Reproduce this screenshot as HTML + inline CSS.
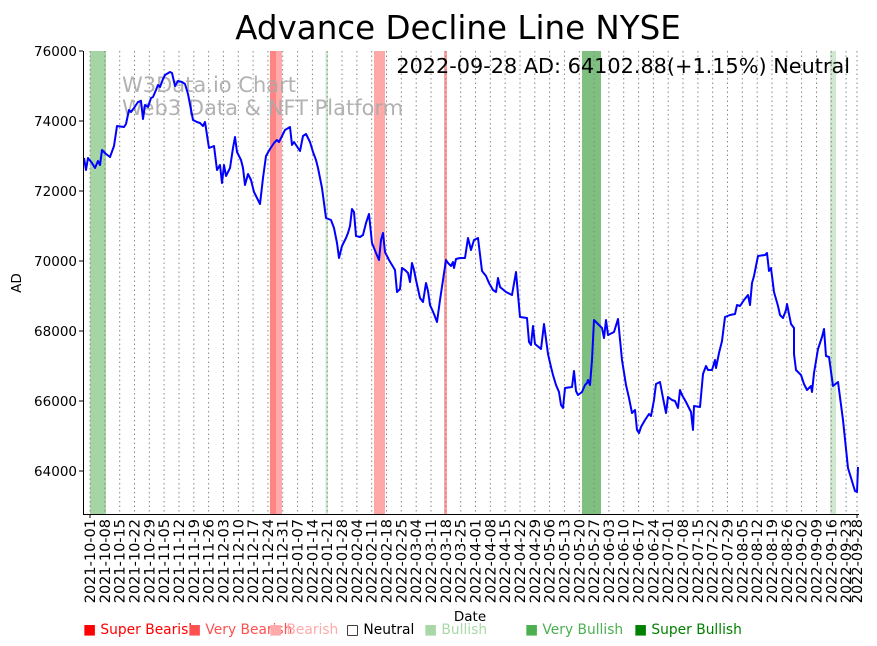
<!DOCTYPE html>
<html><head><meta charset="utf-8"><style>
body{margin:0;background:#fff;}
svg{display:block;font-family:"DejaVu Sans","Liberation Sans",sans-serif;}
</style></head><body>
<svg width="877" height="646" viewBox="0 0 877 646" xmlns="http://www.w3.org/2000/svg">
<rect width="877" height="646" fill="#fff"/>
<rect x="90" y="51" width="16" height="463" fill="#8fcb8f" opacity="0.8"/>
<rect x="270" y="51" width="6" height="463" fill="#ff7070" opacity="0.85"/>
<rect x="276" y="51" width="6" height="463" fill="#ffaaaa"/>
<rect x="325.5" y="51" width="2.5" height="463" fill="#cfe8cf"/>
<rect x="374" y="51" width="11" height="463" fill="#ffa8a8"/>
<rect x="444" y="51" width="3" height="463" fill="#ffa0a0"/>
<rect x="582" y="51" width="19" height="463" fill="#7fbf7f"/>
<rect x="830" y="51" width="6" height="463" fill="#cfe8cf"/>
<g stroke="#888" stroke-width="1" stroke-dasharray="1.5,3">
<line x1="90" y1="51" x2="90" y2="514"/><line x1="104.8" y1="51" x2="104.8" y2="514"/><line x1="119.7" y1="51" x2="119.7" y2="514"/><line x1="134.5" y1="51" x2="134.5" y2="514"/><line x1="149.3" y1="51" x2="149.3" y2="514"/><line x1="164.1" y1="51" x2="164.1" y2="514"/><line x1="179" y1="51" x2="179" y2="514"/><line x1="193.8" y1="51" x2="193.8" y2="514"/><line x1="208.6" y1="51" x2="208.6" y2="514"/><line x1="223.4" y1="51" x2="223.4" y2="514"/><line x1="238.3" y1="51" x2="238.3" y2="514"/><line x1="253.1" y1="51" x2="253.1" y2="514"/><line x1="267.9" y1="51" x2="267.9" y2="514"/><line x1="282.7" y1="51" x2="282.7" y2="514"/><line x1="297.6" y1="51" x2="297.6" y2="514"/><line x1="312.4" y1="51" x2="312.4" y2="514"/><line x1="327.2" y1="51" x2="327.2" y2="514"/><line x1="342" y1="51" x2="342" y2="514"/><line x1="356.9" y1="51" x2="356.9" y2="514"/><line x1="371.7" y1="51" x2="371.7" y2="514"/><line x1="386.5" y1="51" x2="386.5" y2="514"/><line x1="401.3" y1="51" x2="401.3" y2="514"/><line x1="416.2" y1="51" x2="416.2" y2="514"/><line x1="431" y1="51" x2="431" y2="514"/><line x1="445.8" y1="51" x2="445.8" y2="514"/><line x1="460.7" y1="51" x2="460.7" y2="514"/><line x1="475.5" y1="51" x2="475.5" y2="514"/><line x1="490.3" y1="51" x2="490.3" y2="514"/><line x1="505.1" y1="51" x2="505.1" y2="514"/><line x1="520" y1="51" x2="520" y2="514"/><line x1="534.8" y1="51" x2="534.8" y2="514"/><line x1="549.6" y1="51" x2="549.6" y2="514"/><line x1="564.4" y1="51" x2="564.4" y2="514"/><line x1="579.3" y1="51" x2="579.3" y2="514"/><line x1="594.1" y1="51" x2="594.1" y2="514"/><line x1="608.9" y1="51" x2="608.9" y2="514"/><line x1="623.7" y1="51" x2="623.7" y2="514"/><line x1="638.6" y1="51" x2="638.6" y2="514"/><line x1="653.4" y1="51" x2="653.4" y2="514"/><line x1="668.2" y1="51" x2="668.2" y2="514"/><line x1="683" y1="51" x2="683" y2="514"/><line x1="697.9" y1="51" x2="697.9" y2="514"/><line x1="712.7" y1="51" x2="712.7" y2="514"/><line x1="727.5" y1="51" x2="727.5" y2="514"/><line x1="742.3" y1="51" x2="742.3" y2="514"/><line x1="757.2" y1="51" x2="757.2" y2="514"/><line x1="772" y1="51" x2="772" y2="514"/><line x1="786.8" y1="51" x2="786.8" y2="514"/><line x1="801.6" y1="51" x2="801.6" y2="514"/><line x1="816.5" y1="51" x2="816.5" y2="514"/><line x1="831.3" y1="51" x2="831.3" y2="514"/><line x1="846.1" y1="51" x2="846.1" y2="514"/><line x1="857" y1="51" x2="857" y2="514"/>
</g>
<text x="122" y="92" font-size="21" fill="#aaa" fill-opacity="0.9">W3Data.io Chart</text>
<text x="122" y="115" font-size="21" fill="#aaa" fill-opacity="0.9">Web3 Data &amp; NFT Platform</text>
<polyline fill="none" stroke="#0000ff" stroke-width="2" stroke-linejoin="round" points="84,158 86,170 88,158 92,163 95,168 98,161 100,165 102,150 106,154 110,157 114,146 117,126 124,127 126,124 129,110 131,112 134,108 138,102 141,101 143,119 145,105 148,107 151,98 153,97 156,90 158,85 160,87 163,79 165,75 170,72 172,73 175,86 178,81 182,82 185,84 188,94 193,120 197,122 200,123 203,126 205,122 209,148 214,146 217,170 220,165 222,183 224,165 226,176 230,168 233,148 235,137 237,152 241,160 243,168 245,185 248,174 251,180 254,192 260,204 263,178 266,156 270,149 274,143 277,140 279,142 282,136 285,130 290,127 292,145 294,142 296,145 300,151 303,136 306,134 310,142 313,152 316,160 318,168 322,188 326,218 331,220 334,228 337,243 339,258 342,246 346,238 348,233 350,226 352,209 354,212 356,236 360,237 363,235 366,223 369,214 372,243 376,253 379,260 381,240 383,233 385,252 389,260 392,265 395,270 397,292 400,289 402,268 405,270 408,273 410,282 412,263 414,270 416,280 420,298 423,302 426,283 428,291 430,305 434,314 437,322 440,300 443,280 446,260 448,263 451,266 453,262 454,268 456,259 460,258 465,258 468,238 471,250 474,240 478,238 482,271 486,276 489,283 493,290 496,292 498,278 500,287 506,292 512,295 516,272 520,317 527,318 529,342 531,345 533,326 535,344 541,349 544,324 548,354 551,367 553,375 556,385 559,392 561,405 563,408 565,388 572,387 574,371 576,391 578,395 582,392 585,385 587,383 588,380 590,385 592,360 594,320 598,324 602,328 604,338 606,320 608,335 614,332 618,319 622,360 626,385 629,398 632,413 635,410 637,430 639,433 641,427 645,420 649,414 651,416 654,400 656,384 660,382 663,398 666,413 668,397 672,400 675,401 678,408 680,390 682,395 686,402 691,412 693,430 694,406 700,407 703,374 706,366 708,370 712,370 715,360 716,368 719,353 722,341 725,317 730,315 735,314 737,305 740,306 744,300 748,295 750,305 752,283 754,276 758,256 765,255 767,253 769,271 771,268 774,292 778,306 780,315 783,318 786,310 787,304 791,324 794,328 794,354 796,370 801,375 804,384 807,390 811,386 812,392 814,373 818,349 822,337 824,329 826,356 829,357 833,386 838,382 843,420 848,468 855,491 857,492 858,467"/>
<line x1="83.5" y1="51" x2="83.5" y2="514.5" stroke="#000" stroke-width="1"/>
<line x1="83" y1="514.5" x2="859" y2="514.5" stroke="#000" stroke-width="1"/>
<g stroke="#000">
<line x1="79" y1="51" x2="83" y2="51"/><line x1="79" y1="121" x2="83" y2="121"/><line x1="79" y1="191" x2="83" y2="191"/><line x1="79" y1="261" x2="83" y2="261"/><line x1="79" y1="331" x2="83" y2="331"/><line x1="79" y1="401" x2="83" y2="401"/><line x1="79" y1="471" x2="83" y2="471"/>
</g>
<g font-size="13.5" text-anchor="end" fill="#000">
<text x="77" y="56">76000</text><text x="77" y="126">74000</text><text x="77" y="196">72000</text><text x="77" y="266">70000</text><text x="77" y="336">68000</text><text x="77" y="406">66000</text><text x="77" y="476">64000</text>
</g>
<text transform="translate(21,283) rotate(-90)" font-size="13.5" text-anchor="middle">AD</text>
<text x="470" y="621" font-size="13.5" text-anchor="middle">Date</text>
<g font-size="14.5" text-anchor="end">
<text transform="translate(95,519) rotate(-90)">2021-10-01</text>
<text transform="translate(109.8,519) rotate(-90)">2021-10-08</text>
<text transform="translate(124.7,519) rotate(-90)">2021-10-15</text>
<text transform="translate(139.5,519) rotate(-90)">2021-10-22</text>
<text transform="translate(154.3,519) rotate(-90)">2021-10-29</text>
<text transform="translate(169.1,519) rotate(-90)">2021-11-05</text>
<text transform="translate(184,519) rotate(-90)">2021-11-12</text>
<text transform="translate(198.8,519) rotate(-90)">2021-11-19</text>
<text transform="translate(213.6,519) rotate(-90)">2021-11-26</text>
<text transform="translate(228.4,519) rotate(-90)">2021-12-03</text>
<text transform="translate(243.3,519) rotate(-90)">2021-12-10</text>
<text transform="translate(258.1,519) rotate(-90)">2021-12-17</text>
<text transform="translate(272.9,519) rotate(-90)">2021-12-24</text>
<text transform="translate(287.7,519) rotate(-90)">2021-12-31</text>
<text transform="translate(302.6,519) rotate(-90)">2022-01-07</text>
<text transform="translate(317.4,519) rotate(-90)">2022-01-14</text>
<text transform="translate(332.2,519) rotate(-90)">2022-01-21</text>
<text transform="translate(347,519) rotate(-90)">2022-01-28</text>
<text transform="translate(361.9,519) rotate(-90)">2022-02-04</text>
<text transform="translate(376.7,519) rotate(-90)">2022-02-11</text>
<text transform="translate(391.5,519) rotate(-90)">2022-02-18</text>
<text transform="translate(406.3,519) rotate(-90)">2022-02-25</text>
<text transform="translate(421.2,519) rotate(-90)">2022-03-04</text>
<text transform="translate(436,519) rotate(-90)">2022-03-11</text>
<text transform="translate(450.8,519) rotate(-90)">2022-03-18</text>
<text transform="translate(465.7,519) rotate(-90)">2022-03-25</text>
<text transform="translate(480.5,519) rotate(-90)">2022-04-01</text>
<text transform="translate(495.3,519) rotate(-90)">2022-04-08</text>
<text transform="translate(510.1,519) rotate(-90)">2022-04-15</text>
<text transform="translate(525,519) rotate(-90)">2022-04-22</text>
<text transform="translate(539.8,519) rotate(-90)">2022-04-29</text>
<text transform="translate(554.6,519) rotate(-90)">2022-05-06</text>
<text transform="translate(569.4,519) rotate(-90)">2022-05-13</text>
<text transform="translate(584.3,519) rotate(-90)">2022-05-20</text>
<text transform="translate(599.1,519) rotate(-90)">2022-05-27</text>
<text transform="translate(613.9,519) rotate(-90)">2022-06-03</text>
<text transform="translate(628.7,519) rotate(-90)">2022-06-10</text>
<text transform="translate(643.6,519) rotate(-90)">2022-06-17</text>
<text transform="translate(658.4,519) rotate(-90)">2022-06-24</text>
<text transform="translate(673.2,519) rotate(-90)">2022-07-01</text>
<text transform="translate(688,519) rotate(-90)">2022-07-08</text>
<text transform="translate(702.9,519) rotate(-90)">2022-07-15</text>
<text transform="translate(717.7,519) rotate(-90)">2022-07-22</text>
<text transform="translate(732.5,519) rotate(-90)">2022-07-29</text>
<text transform="translate(747.3,519) rotate(-90)">2022-08-05</text>
<text transform="translate(762.2,519) rotate(-90)">2022-08-12</text>
<text transform="translate(777,519) rotate(-90)">2022-08-19</text>
<text transform="translate(791.8,519) rotate(-90)">2022-08-26</text>
<text transform="translate(806.6,519) rotate(-90)">2022-09-02</text>
<text transform="translate(821.5,519) rotate(-90)">2022-09-09</text>
<text transform="translate(836.3,519) rotate(-90)">2022-09-16</text>
<text transform="translate(851.1,519) rotate(-90)">2022-09-23</text>
<text transform="translate(862,519) rotate(-90)">2022-09-28</text>
</g>
<g stroke="#000">
<line x1="90" y1="514" x2="90" y2="518"/><line x1="857" y1="514" x2="857" y2="518"/>
</g>
<text x="458" y="39" font-size="32.5" text-anchor="middle">Advance Decline Line NYSE</text>
<text x="850" y="73" font-size="20.8" text-anchor="end">2022-09-28 AD: 64102.88(+1.15%) Neutral</text>
<g font-size="13.8">
<text x="83" y="634" fill="#ff0000">■ Super Bearish</text>
<text x="188" y="634" fill="#ff5050">■ Very Bearish</text>
<text x="269" y="634" fill="#ffaaaa">■ Bearish</text>
<text x="346" y="634" fill="#000">□ Neutral</text>
<text x="424" y="634" fill="#a8d8a8">■ Bullish</text>
<text x="525" y="634" fill="#4caf50">■ Very Bullish</text>
<text x="634" y="634" fill="#008000">■ Super Bullish</text>
</g>
</svg>
</body></html>
